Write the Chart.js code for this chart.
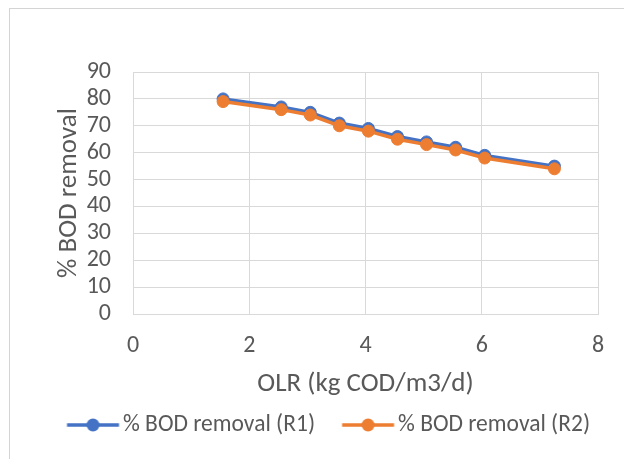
<!DOCTYPE html>
<html>
<head>
<meta charset="utf-8">
<script src="https://cdn.jsdelivr.net/npm/chart.js@4.4.1/dist/chart.umd.min.js"></script>
<style>
  html, body { margin: 0; padding: 0; background: #fff; overflow: hidden; }
  #wrap { position: relative; width: 624px; height: 459px; }
  #frame { position: absolute; left: 9px; top: 8px; width: 700px; height: 700px;
           border-top: 1px solid #d4d4d4; border-left: 1px solid #d4d4d4; }
  #c { position: absolute; left: 0; top: 0; }
</style>
</head>
<body>
<div id="wrap">
  <div id="frame"></div>
  <canvas id="c" width="624" height="459"></canvas>
</div>
<script>
// data
var olr = [1.55, 2.55, 3.05, 3.55, 4.05, 4.55, 5.05, 5.55, 6.05, 7.25];
var bodR1 = [80, 77, 75, 71, 69, 66, 64, 62, 59, 55];
var bodR2 = [79, 76, 74, 70, 68, 65, 63, 61, 58, 54];
var seriesNames = ["% BOD removal (R1)", "% BOD removal (R2)"];
var xTitle = "OLR (kg COD/m3/d)";
var yTitle = "% BOD removal";

var blue = "#4472C4";
var orange = "#ED7D31";
var grey = "#595959";
var fontFamily = "Carlito, Calibri, Lato, sans-serif";
var padLeft = 40;

function pairs(xs, ys) {
    return xs.map(function (x, i) { return { x: x, y: ys[i] }; });
}

// legend marker: short line with a dot in the middle, drawn off-centre so it
// starts a bit after the legend box and leaves a gap to the previous label
function legendMarker(color) {
    var cv = document.createElement("canvas");
    cv.width = 90;
    cv.height = 16;
    var g = cv.getContext("2d");
    g.strokeStyle = color;
    g.lineWidth = 3.5;
    g.beginPath();
    g.moveTo(35.4, 8);
    g.lineTo(87.4, 8);
    g.stroke();
    g.fillStyle = color;
    g.beginPath();
    g.arc(61.4, 8, 6.5, 0, Math.PI * 2);
    g.fill();
    return cv;
}
var markers = [legendMarker(blue), legendMarker(orange)];

var ctx = document.getElementById("c").getContext("2d");
new Chart(ctx, {
    type: "line",
    data: {
        datasets: [{
            label: seriesNames[0],
            data: pairs(olr, bodR1),
            borderColor: blue,
            backgroundColor: blue,
            borderWidth: 3.5,
            pointRadius: 6,
            pointBorderWidth: 1,
            order: 1
        }, {
            label: seriesNames[1],
            data: pairs(olr, bodR2),
            borderColor: orange,
            backgroundColor: orange,
            borderWidth: 3.5,
            pointRadius: 6,
            pointBorderWidth: 1,
            order: 0
        }]
    },
    options: {
        responsive: false,
        animation: false,
        layout: { padding: { left: padLeft, right: 26, top: 72, bottom: 12.25 } },
        plugins: {
            tooltip: { enabled: false },
            legend: {
                position: "bottom",
                align: "start",
                labels: {
                    color: grey,
                    font: { family: fontFamily, size: 23.5 },
                    usePointStyle: true,
                    pointStyleWidth: 69.25,
                    padding: 2,
                    generateLabels: function (chart) {
                        var items = Chart.defaults.plugins.legend.labels.generateLabels(chart);
                        items.sort(function (a, b) { return a.datasetIndex - b.datasetIndex; });
                        items.forEach(function (it) { it.pointStyle = markers[it.datasetIndex]; });
                        return items;
                    }
                }
            }
        },
        scales: {
            x: {
                type: "linear",
                min: 0,
                max: 8,
                ticks: { stepSize: 2, autoSkip: false, color: grey, padding: 18, font: { family: fontFamily, size: 24 } },
                grid: { color: "#d9d9d9", drawTicks: false },
                border: { color: "#d9d9d9" },
                title: { display: true, text: xTitle, color: grey, padding: { top: 0, bottom: 11 },
                         font: { family: fontFamily, size: 27 } },
                afterFit: function (s) { s.height = 97.25; }
            },
            y: {
                min: 0,
                max: 90,
                ticks: { stepSize: 10, autoSkip: false, color: grey, padding: 22, font: { family: fontFamily, size: 24 } },
                grid: { color: "#d9d9d9", drawTicks: false },
                border: { color: "#d9d9d9" },
                title: { display: true, text: yTitle, color: grey, padding: { top: 13.3, bottom: 0 },
                         font: { family: fontFamily, size: 27 } },
                afterFit: function (s) { s.width = 133 - padLeft; }
            }
        }
    }
});
</script>
</body>
</html>
